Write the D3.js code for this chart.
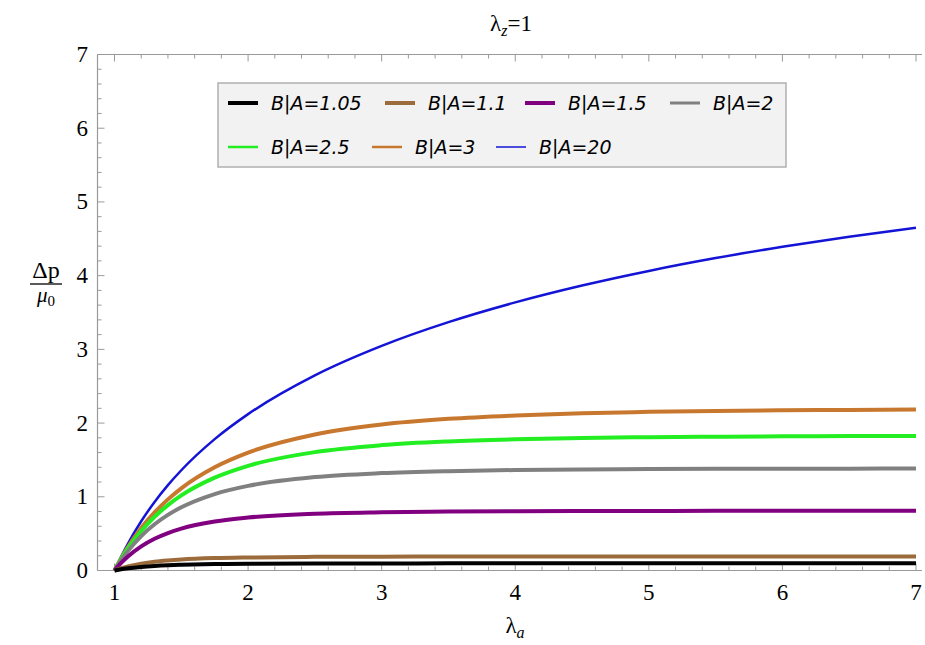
<!DOCTYPE html>
<html>
<head>
<meta charset="utf-8">
<script src="https://cdn.jsdelivr.net/npm/d3@7"></script>
<style>
  body { margin: 0; background: #fff; }
  svg { display: block; }
  svg text.sr { font-family: "Liberation Serif"; }
</style>
</head>
<body>
<div id="chart"></div>
<script>
// lambda_a sample points
var lambdaA = [1, 1.05, 1.1, 1.2, 1.3, 1.4, 1.5, 1.75, 2, 2.5, 3, 3.5, 4, 4.5, 5, 5.5, 6, 6.5, 7];

// dp/mu0
var ba105 = [0, 0.017, 0.030, 0.049, 0.062, 0.071, 0.077, 0.087, 0.091, 0.095, 0.096, 0.097, 0.097, 0.097, 0.098, 0.098, 0.098, 0.098, 0.098];
var ba11  = [0, 0.031, 0.056, 0.093, 0.119, 0.136, 0.149, 0.168, 0.177, 0.185, 0.188, 0.189, 0.190, 0.190, 0.190, 0.190, 0.190, 0.191, 0.191];
var ba15  = [0, 0.102, 0.190, 0.328, 0.431, 0.508, 0.568, 0.664, 0.718, 0.769, 0.789, 0.799, 0.804, 0.806, 0.808, 0.809, 0.809, 0.810, 0.810];
var ba2   = [0, 0.140, 0.263, 0.467, 0.627, 0.754, 0.857, 1.037, 1.148, 1.267, 1.321, 1.348, 1.363, 1.371, 1.376, 1.379, 1.381, 1.382, 1.383];
var ba25  = [0, 0.158, 0.299, 0.536, 0.729, 0.887, 1.018, 1.259, 1.420, 1.606, 1.701, 1.751, 1.780, 1.798, 1.809, 1.815, 1.820, 1.823, 1.826];
var ba3   = [0, 0.168, 0.318, 0.576, 0.788, 0.965, 1.115, 1.400, 1.599, 1.845, 1.980, 2.057, 2.104, 2.134, 2.152, 2.165, 2.173, 2.179, 2.184];
var ba20  = [0, 0.190, 0.363, 0.668, 0.930, 1.158, 1.360, 1.782, 2.121, 2.647, 3.047, 3.369, 3.637, 3.866, 4.064, 4.238, 4.391, 4.528, 4.651];

var seriesNames = ["B|A=1.05", "B|A=1.1", "B|A=1.5", "B|A=2", "B|A=2.5", "B|A=3", "B|A=20"];
var seriesValues = [ba105, ba11, ba15, ba2, ba25, ba3, ba20];
var seriesColors = ["#000000", "#9c6b3b", "#800080", "#808080", "#22ee22", "#c8782e", "#1414d6"];
var seriesWidths = [4, 4, 4, 4, 4, 4, 2.5];
var legendWidths = [4, 4, 4, 3, 2.5, 2.5, 1.5];

var xTicks = [1, 2, 3, 4, 5, 6, 7];
var yTicks = [0, 1, 2, 3, 4, 5, 6, 7];

var W = 925, H = 645;
var svg = d3.select("#chart").append("svg").attr("width", W).attr("height", H);

var x = d3.scaleLinear().domain([1, 7]).range([114.5, 916]);
var y = d3.scaleLinear().domain([0, 7]).range([570.5, 54.5]);
var fLeft = 97.5, fRight = 922, fTop = 54.5, fBottom = 570.5;
var axisCol = "#9a9a9a";

// frame lines: left, bottom, top
var frame = svg.append("g").attr("stroke", axisCol).attr("stroke-width", 1.2).attr("fill", "none");
frame.append("line").attr("x1", fLeft).attr("x2", fLeft).attr("y1", fTop).attr("y2", fBottom);
frame.append("line").attr("x1", fLeft).attr("x2", fRight).attr("y1", fBottom).attr("y2", fBottom);
frame.append("line").attr("x1", fLeft).attr("x2", fRight).attr("y1", fTop).attr("y2", fTop);

// minor + major ticks (0.2 steps)
var xMinor = d3.range(1, 7.001, 0.2);
var yMinor = d3.range(0, 7.001, 0.2);
function isMajor(v) { return Math.abs(v - Math.round(v)) < 1e-6; }

var tg = svg.append("g").attr("stroke", axisCol).attr("stroke-width", 1);
xMinor.forEach(function (v) {
  var len = isMajor(v) ? 7 : 4;
  tg.append("line").attr("x1", x(v)).attr("x2", x(v)).attr("y1", fBottom).attr("y2", fBottom - len);
  tg.append("line").attr("x1", x(v)).attr("x2", x(v)).attr("y1", fTop).attr("y2", fTop + len);
});
yMinor.forEach(function (v) {
  var len = isMajor(v) ? 7 : 4;
  tg.append("line").attr("x1", fLeft).attr("x2", fLeft + len).attr("y1", y(v)).attr("y2", y(v));
});

// tick labels
svg.append("g").selectAll("text").data(xTicks).join("text")
  .attr("class", "sr").attr("font-size", 23)
  .attr("x", function (d) { return x(d); }).attr("y", 600)
  .attr("text-anchor", "middle")
  .text(function (d) { return d; });
svg.append("g").selectAll("text").data(yTicks).join("text")
  .attr("class", "sr").attr("font-size", 23)
  .attr("x", 88).attr("y", function (d) { return y(d) + 7.5; })
  .attr("text-anchor", "end")
  .text(function (d) { return d; });

// curves
var line = d3.line()
  .x(function (d) { return x(d[0]); })
  .y(function (d) { return y(d[1]); })
  .curve(d3.curveMonotoneX);

var order = [6, 5, 4, 3, 2, 1, 0];
order.forEach(function (i) {
  var pts = lambdaA.map(function (l, k) { return [l, seriesValues[i][k]]; });
  svg.append("path").attr("d", line(pts))
    .attr("fill", "none").attr("stroke", seriesColors[i])
    .attr("stroke-width", seriesWidths[i]).attr("stroke-linejoin", "round");
});

// legend
var lg = svg.append("g");
lg.append("rect").attr("x", 218).attr("y", 83).attr("width", 568).attr("height", 84)
  .attr("fill", "#f2f2f2").attr("stroke", "#b0b0b0").attr("stroke-width", 1.5);
var legPos = [[228, 103], [385, 103], [525, 103], [670, 103], [228, 147], [372, 147], [496, 147]];
seriesNames.forEach(function (n, i) {
  var p = legPos[i];
  lg.append("line").attr("x1", p[0]).attr("x2", p[0] + 30).attr("y1", p[1]).attr("y2", p[1])
    .attr("stroke", seriesColors[i]).attr("stroke-width", legendWidths[i]);
  lg.append("text").attr("x", p[0] + 43).attr("y", p[1] + 7)
    .attr("font-family", "DejaVu Sans").attr("font-style", "italic")
    .attr("font-size", 19).text(n);
});

// title
var title = svg.append("text").attr("class", "sr").attr("font-size", 23)
  .attr("x", 511).attr("y", 31).attr("text-anchor", "middle");
title.append("tspan").text("λ");
title.append("tspan").attr("dy", 5).attr("font-size", 16).attr("font-style", "italic").text("z");
title.append("tspan").attr("dy", -5).text("=1");

// x axis title
var xt = svg.append("text").attr("class", "sr").attr("font-size", 23)
  .attr("x", 515).attr("y", 633).attr("text-anchor", "middle");
xt.append("tspan").text("λ");
xt.append("tspan").attr("dy", 5).attr("font-size", 16).attr("font-style", "italic").text("a");

// y axis title as fraction
var yl = svg.append("g");
yl.append("text").attr("class", "sr").attr("x", 46).attr("y", 278).attr("text-anchor", "middle")
  .attr("font-size", 24).text("Δp");
yl.append("line").attr("x1", 30).attr("x2", 62).attr("y1", 284).attr("y2", 284)
  .attr("stroke", "#000").attr("stroke-width", 1.3);
var mu = yl.append("text").attr("class", "sr").attr("x", 46).attr("y", 302).attr("text-anchor", "middle")
  .attr("font-size", 21);
mu.append("tspan").attr("font-style", "italic").text("μ");
mu.append("tspan").attr("dy", 4).attr("font-size", 15).text("0");
</script>
</body>
</html>
